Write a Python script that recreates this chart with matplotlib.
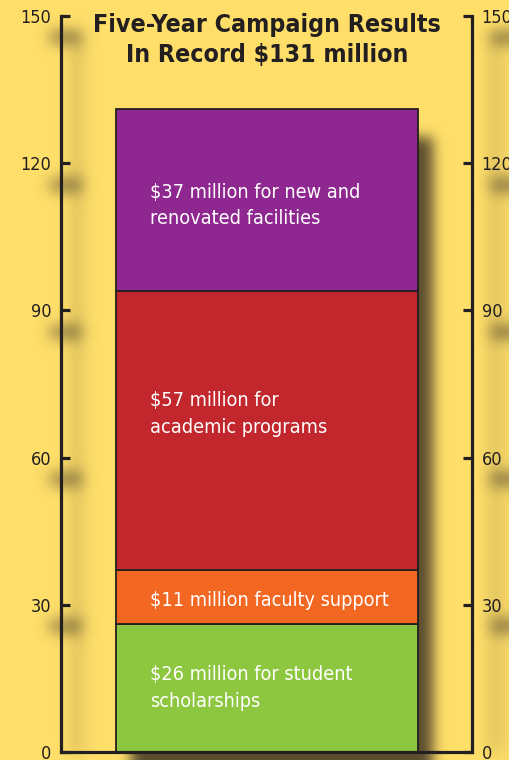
import numpy as np
import matplotlib
matplotlib.use("Agg")
import matplotlib.pyplot as plt

# data
segments = ["scholarships", "faculty", "programs", "facilities"]
amounts = [26, 11, 57, 37]
labels = [
    "$26 million for student\nscholarships",
    "$11 million faculty support",
    "$57 million for\nacademic programs",
    "$37 million for new and\nrenovated facilities",
]
colors = ["#8DC63F", "#F26722", "#C1272D", "#8E278F"]
label_pos = [0.50, 0.45, 0.56, 0.47]  # fraction of segment height
ticks = [0, 30, 60, 90, 120, 150]
title = "Five-Year Campaign Results\nIn Record $131 million"

BG = "#FFDF6A"
INK = "#231F20"
W, H = 510, 760

plt.rcParams["font.family"] = ["DejaVu Sans"]
plt.rcParams["font.stretch"] = "condensed"

fig = plt.figure(figsize=(W / 100, H / 100), dpi=100, facecolor=BG)
ax = fig.add_axes([61 / W, 8 / H, 411 / W, 736 / H])
ax.set_facecolor("none")
ax.set_xlim(0, 1)
ax.set_ylim(0, 150)

bar_x, bar_w = 0.5012, 0.7348
bottoms = np.concatenate([[0], np.cumsum(amounts)[:-1]])
ax.bar([bar_x] * len(amounts), amounts, width=bar_w, bottom=bottoms,
       color=colors, edgecolor=INK, linewidth=1.3, zorder=3)

tx = bar_x - bar_w / 2 + 0.0825
for b, a, lab, f in zip(bottoms, amounts, labels, label_pos):
    ax.text(tx, b + a * f, lab, color="white", fontsize=14.2, ha="left",
            va="center", linespacing=1.5, fontstretch="condensed", zorder=4)

# axes: left/right spines with inward ticks, bottom baseline
ax.spines["top"].set_visible(False)
for s in ["left", "right", "bottom"]:
    ax.spines[s].set_linewidth(2.3)
    ax.spines[s].set_color(INK)
ax.spines["bottom"].set_zorder(5)
ax.set_yticks(ticks)
ax.set_xticks([])
ax.tick_params(axis="y", which="both", direction="in", length=6.5, width=2.3,
               color=INK, labelsize=13, labelcolor=INK, pad=7,
               left=True, right=True, labelleft=True, labelright=True)
for lbl in ax.get_yticklabels(which="both"):
    lbl.set_fontstretch("condensed")

fig.text(267 / W, 1 - 40 / H, title, ha="center", va="center",
         fontsize=17.9, fontweight="bold", fontstretch="condensed",
         color=INK, linespacing=1.35)

# blurred drop shadows in pixel space
to_px = ax.transData.transform
mask_dark = np.zeros((H, W))
mask_soft = np.zeros((H, W))


def add_rect(m, x0, y0, x1, y1, v=1.0):
    # display coords (origin bottom-left) -> array rows from top
    r0, r1 = int(H - max(y0, y1)), int(H - min(y0, y1))
    c0, c1 = int(min(x0, x1)), int(max(x0, x1))
    m[max(r0, 0):min(r1, H), max(c0, 0):min(c1, W)] += v


bx0, by0 = to_px((bar_x - bar_w / 2, 0))
bx1, by1 = to_px((bar_x + bar_w / 2, sum(amounts)))
add_rect(mask_dark, bx0 + 16, by0 - 28, bx1 + 16, by1 - 28)

lx, y_bot = to_px((0, 0))
rx, y_top = to_px((1, 150))
add_rect(mask_soft, lx + 10, y_bot, lx + 22, y_top - 20, 0.35)
add_rect(mask_soft, rx + 18, y_bot, rx + 30, y_top - 20, 0.35)
for t in ticks[1:]:
    ty = to_px((0, t))[1]
    add_rect(mask_soft, lx - 10, ty - 27, lx + 20, ty - 17, 1.3)
    add_rect(mask_soft, rx + 20, ty - 27, rx + 50, ty - 17, 1.3)


def gauss_mat(n, sigma):
    i = np.arange(n)
    g = np.exp(-0.5 * ((i[:, None] - i[None, :]) / sigma) ** 2)
    return g / g.sum(axis=1, keepdims=True)


def blur(m, sigma):
    return gauss_mat(H, sigma) @ m @ gauss_mat(W, sigma).T


alpha = np.clip(0.9 * blur(mask_dark, 6.5) + 0.6 * blur(mask_soft, 7.5), 0, 1)
shadow = np.zeros((H, W, 4))
shadow[..., 0] = 72 / 255
shadow[..., 1] = 60 / 255
shadow[..., 2] = 40 / 255
shadow[..., 3] = alpha
fig.figimage(shadow, xo=0, yo=0, origin="upper", zorder=-1)

fig.savefig("out.png", dpi=100, facecolor=BG)
